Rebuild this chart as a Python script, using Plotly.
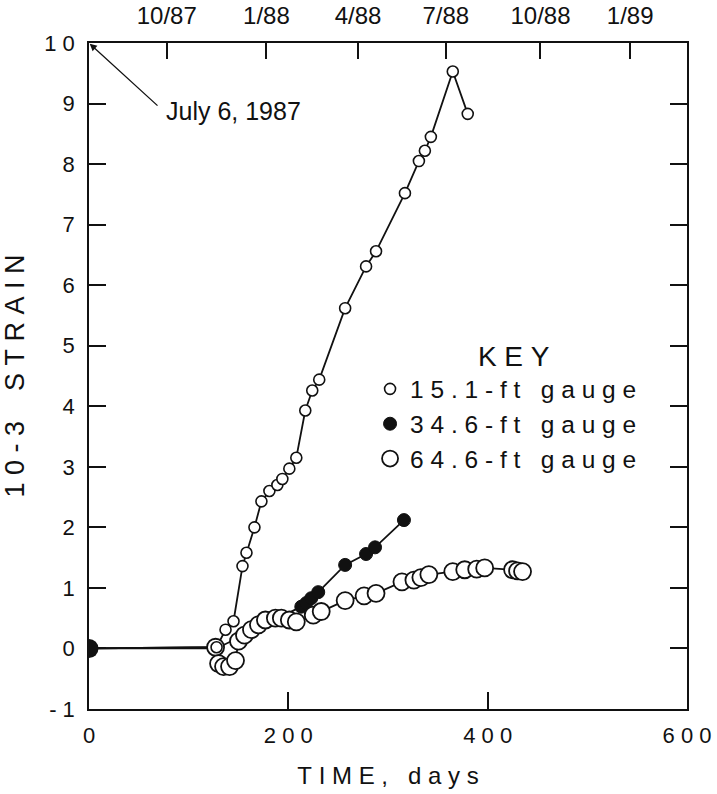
import plotly.graph_objects as go

# ---------------- data ----------------
origin_day = [0]
origin_strain = [0]

g15_day = [0, 128, 137, 145, 154, 158, 166, 173, 181, 189, 194, 201, 208, 217, 224, 231, 257, 278, 288, 317, 331, 337, 343, 365, 380]
g15_strain = [0, 0.02, 0.31, 0.45, 1.36, 1.58, 2.0, 2.43, 2.6, 2.7, 2.8, 2.97, 3.15, 3.93, 4.26, 4.44, 5.62, 6.31, 6.56, 7.52, 8.05, 8.22, 8.45, 9.53, 8.83]

g34_day = [0, 128, 213, 218, 223, 230, 257, 278, 287, 316]
g34_strain = [0, 0.0, 0.69, 0.75, 0.83, 0.93, 1.38, 1.56, 1.67, 2.12]

g64_day = [0, 127, 130, 135, 141, 147, 150, 156, 163, 170, 177, 187, 193, 201, 208, 225, 233, 257, 276, 288,
           314, 326, 333, 341, 365, 377, 389, 397, 425, 430, 435]
g64_strain = [0, 0.02, -0.25, -0.3, -0.3, -0.2, 0.12, 0.22, 0.31, 0.39, 0.47, 0.5, 0.5, 0.47, 0.44, 0.55, 0.61, 0.79, 0.87, 0.91,
              1.1, 1.13, 1.17, 1.22, 1.27, 1.3, 1.31, 1.33, 1.3, 1.28, 1.27]

x_ticks = [0, 200, 400, 600]
y_ticks = list(range(-1, 11))
date_ticks = [78, 178, 270, 358, 453, 543]
date_labels = ["10/87", "1/88", "4/88", "7/88", "10/88", "1/89"]

series_names = ["15.1-ft gauge", "34.6-ft gauge", "64.6-ft gauge"]
start_label = "July 6, 1987"
start_label_pos = (215, 8.87)

# ---------------- helpers ----------------
SP = "\u00a0"


def spaced(s, gap=1, word_gap=3):
    words = s.split(" ")
    return (SP * word_gap).join((SP * gap).join(w) for w in words)


FONT = "Liberation Sans, Arial, Helvetica, sans-serif"
BLACK = "#111111"

fig = go.Figure()

# lines first (behind markers)
for xs, ys in [(g34_day, g34_strain), (g64_day, g64_strain), (g15_day, g15_strain)]:
    fig.add_trace(go.Scatter(x=xs, y=ys, mode="lines", line=dict(color=BLACK, width=1.8),
                             showlegend=False, hoverinfo="skip"))

fig.add_trace(go.Scatter(
    x=g34_day[2:], y=g34_strain[2:], mode="markers", name=spaced(series_names[1]),
    marker=dict(symbol="circle", size=13, color=BLACK, line=dict(color=BLACK, width=1)),
    legendrank=2, legendgroup="b"))
fig.add_trace(go.Scatter(
    x=g64_day[1:], y=g64_strain[1:], mode="markers", name=spaced(series_names[2]),
    marker=dict(symbol="circle", size=17, color="white", line=dict(color=BLACK, width=1.8)),
    legendrank=3, legendgroup="c"))
fig.add_trace(go.Scatter(
    x=g15_day[1:], y=g15_strain[1:], mode="markers", name=spaced(series_names[0]),
    marker=dict(symbol="circle", size=11, color="white", line=dict(color=BLACK, width=1.6)),
    legendrank=1, legendgroup="a"))
fig.add_trace(go.Scatter(
    x=origin_day, y=origin_strain, mode="markers", showlegend=False,
    marker=dict(symbol="circle", size=19, color=BLACK)))
# dummy trace for top axis
fig.add_trace(go.Scatter(x=[0, 600], y=[None, None], xaxis="x2", mode="markers",
                         showlegend=False, hoverinfo="skip"))

axis_font = dict(family=FONT, size=22, color=BLACK)

fig.update_layout(
    width=717, height=794,
    margin=dict(l=89, r=30, t=43, b=85, autoexpand=False),
    paper_bgcolor="white", plot_bgcolor="white",
    font=dict(family=FONT, color=BLACK),
    xaxis=dict(
        range=[0, 600], tickvals=x_ticks, ticktext=[spaced(str(v)) for v in x_ticks],
        ticks="inside", ticklen=17, tickwidth=1.5, tickcolor=BLACK,
        showline=True, linecolor=BLACK, linewidth=1.5, mirror=True, automargin=False,
        showgrid=False, zeroline=False, tickfont=axis_font, ticklabelstandoff=6,
        title=dict(text=spaced("TIME, days", 1, 3), font=dict(family=FONT, size=24, color=BLACK), standoff=20),
    ),
    xaxis2=dict(
        range=[0, 600], overlaying="x", side="top", anchor="y", automargin=False,
        tickvals=date_ticks, ticktext=date_labels,
        ticks="inside", ticklen=16, tickwidth=1.5, tickcolor=BLACK,
        showline=False, showgrid=False, zeroline=False, ticklabelstandoff=13,
        tickfont=dict(family=FONT, size=24, color=BLACK),
    ),
    yaxis=dict(
        range=[-1, 10], tickvals=y_ticks,
        ticktext=[("-" + SP + "1") if v < 0 else spaced(str(v)) for v in y_ticks],
        ticks="inside", ticklen=17, tickwidth=1.5, tickcolor=BLACK, automargin=False,
        showline=True, linecolor=BLACK, linewidth=1.5, mirror="ticks",
        showgrid=False, zeroline=False, tickfont=axis_font, ticklabelstandoff=8,
        title=dict(text=spaced("10") + SP + "-" + SP + "3" + SP * 4 + spaced("STRAIN"),
                   font=dict(family=FONT, size=27, color=BLACK), standoff=12),
    ),
    legend=dict(
        x=0.47, y=0.569, xanchor="left", yanchor="top",
        bgcolor="rgba(0,0,0,0)", borderwidth=0,
        font=dict(family=FONT, size=24.5, color=BLACK),
        title=dict(text=SP * 2 + spaced("KEY"), side="top center", font=dict(family=FONT, size=28, color=BLACK)),
        tracegroupgap=0, itemsizing="trace",
    ),
    annotations=[
        dict(x=0, y=10, xref="x", yref="y", text="", showarrow=True, ax=70, ay=64,
             arrowhead=2, arrowsize=1.1, arrowwidth=1.3, arrowcolor=BLACK, standoff=1),
        dict(x=start_label_pos[0], y=start_label_pos[1], xref="x", yref="y", text=start_label,
             showarrow=False, xanchor="right", yanchor="middle",
             font=dict(family=FONT, size=25, color=BLACK)),
    ],
)

fig.write_html("out.html")
